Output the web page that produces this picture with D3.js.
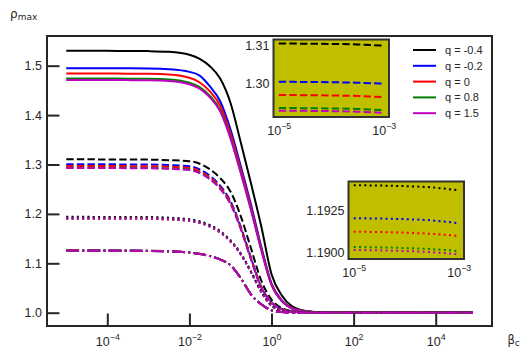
<!DOCTYPE html>
<html>
<head>
<meta charset="utf-8">
<script src="https://cdn.jsdelivr.net/npm/d3@7"></script>
<style>
  body { margin: 0; background: #ffffff; }
  svg text { font-family: "Liberation Sans", Arial, sans-serif; fill: #262626; }
  svg .math { font-family: "DejaVu Sans", sans-serif; }
</style>
</head>
<body>
<svg id="chart" width="532" height="359"></svg>
<script>
// beta_c sample points (log spaced, denser through the drop)
var betaC = [1e-5, 3.16e-5, 1e-4, 3.16e-4, 1e-3, 3.16e-3, 1e-2, 1.78e-2, 3.16e-2, 5.62e-2,
             0.1, 0.178, 0.316, 0.562, 1, 1.78, 3.16, 5.62, 10, 17.8, 31.6, 100, 1000, 10000, 80000];

var qLabels = ["q = -0.4", "q = -0.2", "q = 0", "q = 0.8", "q = 1.5"];

// one row per q, same order as qLabels
var rhoSolid = [
    [1.530,1.530,1.530,1.5299,1.5295,1.528,1.522,1.514,1.499,1.474,1.425,1.345,1.262,1.175,1.078,1.035,1.013,1.005,1.002,1.0005,1,1,1,1,1],
    [1.495,1.495,1.495,1.4948,1.4945,1.493,1.4875,1.480,1.458,1.428,1.371,1.297,1.219,1.134,1.059,1.025,1.009,1.0035,1.0015,1.0005,1,1,1,1,1],
    [1.484,1.484,1.484,1.4838,1.4835,1.482,1.4755,1.466,1.448,1.419,1.363,1.291,1.214,1.131,1.058,1.024,1.009,1.0034,1.0015,1.0005,1,1,1,1,1],
    [1.474,1.474,1.474,1.4738,1.4735,1.472,1.4655,1.4565,1.439,1.410,1.3555,1.285,1.2095,1.128,1.057,1.0235,1.0085,1.0033,1.0014,1.0005,1,1,1,1,1],
    [1.471,1.471,1.471,1.4708,1.4705,1.469,1.4625,1.4535,1.436,1.4075,1.353,1.283,1.208,1.127,1.0565,1.0235,1.0085,1.0033,1.0014,1.0005,1,1,1,1,1]
];
var rhoDashed = [
    [1.31044,1.31040,1.31033,1.31018,1.30987,1.3088,1.3068,1.3015,1.2902,1.2725,1.2452,1.1956,1.1304,1.0652,1.0264,1.0093,1.0031,1.0009,1.0003,1,1,1,1,1,1],
    [1.30042,1.30038,1.30031,1.30017,1.29990,1.2988,1.2965,1.2899,1.2770,1.2571,1.2259,1.1742,1.1111,1.0526,1.0210,1.0075,1.0024,1.0008,1.0003,1,1,1,1,1,1],
    [1.29695,1.29691,1.29684,1.29670,1.29642,1.2953,1.2931,1.2866,1.2738,1.2542,1.2233,1.1722,1.1099,1.0520,1.0208,1.0074,1.0024,1.0007,1.0003,1,1,1,1,1,1],
    [1.29355,1.29351,1.29344,1.29330,1.29300,1.2919,1.2897,1.2833,1.2707,1.2513,1.2208,1.1703,1.1086,1.0514,1.0205,1.0073,1.0023,1.0007,1.0003,1,1,1,1,1,1],
    [1.29285,1.29281,1.29274,1.29259,1.29230,1.2912,1.2890,1.2826,1.2700,1.2507,1.2202,1.1699,1.1084,1.0513,1.0205,1.0073,1.0023,1.0007,1.0003,1,1,1,1,1,1]
];
var rhoDotted = [
    [1.19401,1.19399,1.19395,1.19388,1.19370,1.1923,1.1893,1.1852,1.1775,1.1653,1.1469,1.1203,1.0836,1.0429,1.0143,1.0041,1.0010,1.0002,1,1,1,1,1,1,1],
    [1.19205,1.19203,1.19199,1.19192,1.19175,1.1904,1.1874,1.1833,1.1757,1.1636,1.1454,1.1191,1.0828,1.0424,1.0141,1.0040,1.0010,1.0002,1,1,1,1,1,1,1],
    [1.19125,1.19123,1.19119,1.19112,1.19100,1.1896,1.1866,1.1826,1.1750,1.1629,1.1448,1.1186,1.0824,1.0423,1.0141,1.0040,1.0010,1.0002,1,1,1,1,1,1,1],
    [1.19034,1.19032,1.19028,1.19021,1.19010,1.1887,1.1857,1.1817,1.1742,1.1622,1.1441,1.1180,1.0820,1.0421,1.0140,1.0040,1.0010,1.0002,1,1,1,1,1,1,1],
    [1.19016,1.19014,1.19010,1.19003,1.18990,1.1885,1.1855,1.1815,1.1740,1.1620,1.1440,1.1179,1.0820,1.0420,1.0140,1.0040,1.0010,1.0002,1,1,1,1,1,1,1]
];
var rhoDashDot = [
    [1.1260,1.1260,1.1259,1.1257,1.1254,1.1244,1.1219,1.1193,1.1148,1.1078,1.0962,1.0702,1.0371,1.0171,1.0050,1.0012,1.0002,1,1,1,1,1,1,1,1],
    [1.1258,1.1258,1.1257,1.1255,1.1252,1.1242,1.1217,1.1191,1.1146,1.1076,1.0961,1.0701,1.0370,1.0170,1.0050,1.0012,1.0002,1,1,1,1,1,1,1,1],
    [1.1257,1.1257,1.1256,1.1254,1.1251,1.1241,1.1216,1.1190,1.1145,1.1075,1.0960,1.0700,1.0370,1.0170,1.0050,1.0012,1.0002,1,1,1,1,1,1,1,1],
    [1.1256,1.1256,1.1255,1.1253,1.1250,1.1240,1.1215,1.1190,1.1145,1.1075,1.0960,1.0700,1.0370,1.0170,1.0050,1.0012,1.0002,1,1,1,1,1,1,1,1],
    [1.1256,1.1256,1.1255,1.1253,1.1250,1.1240,1.1215,1.1190,1.1145,1.1075,1.0960,1.0700,1.0370,1.0170,1.0050,1.0012,1.0002,1,1,1,1,1,1,1,1]
];

var yTicks = [1.0, 1.1, 1.2, 1.3, 1.4, 1.5];
var xTickPowers = [-4, -2, 0, 2, 4];
var insetDashedTicks = [1.30, 1.31];
var insetDottedTicks = [1.19, 1.1925];
var insetXPowers = [-5, -3];

var lineColors = ["#000000", "#0000ff", "#ff0000", "#008000", "#bf00bf"];
var dashSolid = null, dashDashed = "7.4,3.2", dashDotted = "2,3.3", dashDashDot = "12.8,3.2,2,3.2";

var svg = d3.select("#chart");
var axisColor = "#262626";

var box = {left: 47, right: 492, top: 36, bottom: 326};
var x = d3.scaleLog().domain([Math.pow(10, -5.469), Math.pow(10, 5.371)]).range([box.left, box.right]);
var y = d3.scaleLinear().domain([0.9731, 1.5601]).range([box.bottom, box.top]);

function lineFor(xs, ys) {
    return d3.line()
        .x(function(d) { return xs(d[0]); })
        .y(function(d) { return ys(d[1]); })
        .curve(d3.curveMonotoneX);
}

function pairs(vals, n) {
    var out = [];
    var last = n || vals.length;
    for (var i = 0; i < last; i++) out.push([betaC[i], vals[i]]);
    return out;
}

// power-of-ten labels, "10" with a raised exponent
function powerLabels(sel) {
    sel.selectAll(".tick text").each(function(p) {
        var t = d3.select(this);
        t.text(null);
        t.append("tspan").text("10");
        t.append("tspan").attr("dy", "-0.62em").style("font-size", "8.8px")
            .text(p < 0 ? "\u2212" + Math.abs(p) : String(p));
    });
}

// main curves
var mainLine = lineFor(x, y);
var curves = svg.append("g").attr("class", "curves");
var styleSets = [[rhoSolid, dashSolid], [rhoDashed, dashDashed], [rhoDotted, dashDotted], [rhoDashDot, dashDashDot]];
styleSets.forEach(function(s) {
    s[0].forEach(function(vals, qi) {
        curves.append("path")
            .attr("d", mainLine(pairs(vals)))
            .attr("fill", "none")
            .attr("stroke", lineColors[qi])
            .attr("stroke-width", 2)
            .attr("stroke-dasharray", s[1]);
    });
});

// axes, inward ticks
var yAxis = svg.append("g").attr("transform", "translate(" + box.left + ",0)")
    .call(d3.axisLeft(y).tickValues(yTicks).tickFormat(d3.format(".1f")).tickSize(-12.5).tickSizeOuter(0).tickPadding(5));
var xAxis = svg.append("g").attr("transform", "translate(0," + box.bottom + ")")
    .call(d3.axisBottom(x).tickValues(xTickPowers.map(function(p) { return Math.pow(10, p); }))
        .tickSize(-12.5).tickSizeOuter(0).tickPadding(11));
xAxis.selectAll(".tick").each(function(d) { d3.select(this).select("text").datum(Math.round(Math.log10(d))); });
powerLabels(xAxis);

[yAxis, xAxis].forEach(function(a) {
    a.select(".domain").remove();
    a.selectAll(".tick line").attr("stroke", axisColor).attr("stroke-width", 2);
    a.selectAll(".tick text").style("font-size", "12.5px").attr("fill", axisColor);
});

svg.append("rect")
    .attr("x", box.left).attr("y", box.top)
    .attr("width", box.right - box.left).attr("height", box.bottom - box.top)
    .attr("fill", "none").attr("stroke", axisColor).attr("stroke-width", 2);

// axis titles
var yTitle = svg.append("text").attr("class", "math").attr("x", 10).attr("y", 18);
yTitle.append("tspan").style("font-size", "12px").text("\u03c1");
yTitle.append("tspan").attr("dy", 2).style("font-size", "9px").text("max");

var xTitle = svg.append("text").attr("class", "math").attr("x", 507.5).attr("y", 344);
xTitle.append("tspan").style("font-size", "11.5px").text("\u03b2");
xTitle.append("tspan").attr("dy", 1.5).style("font-size", "9px").text("c");

// legend
var legend = svg.append("g").attr("class", "legend");
qLabels.forEach(function(lab, i) {
    var ly = 50 + i * 15.8;
    legend.append("line").attr("x1", 413).attr("x2", 436).attr("y1", ly).attr("y2", ly)
        .attr("stroke", lineColors[i]).attr("stroke-width", 2);
    legend.append("text").attr("x", 445).attr("y", ly).attr("dy", "0.36em")
        .style("font-size", "11px").text(lab);
});

// zoomed insets of the plateau (first five beta points, up to 1e-3)
function drawInset(id, r, yDomain, series, dash, yTickVals, yFmt) {
    var ix = d3.scaleLog().domain([Math.pow(10, -5.1), Math.pow(10, -2.9)]).range([r.left, r.right]);
    var iy = d3.scaleLinear().domain(yDomain).range([r.bottom, r.top]);
    var g = svg.append("g").attr("class", "inset");

    g.append("clipPath").attr("id", id)
        .append("rect").attr("x", r.left).attr("y", r.top)
        .attr("width", r.right - r.left).attr("height", r.bottom - r.top);

    g.append("rect").attr("x", r.left).attr("y", r.top)
        .attr("width", r.right - r.left).attr("height", r.bottom - r.top)
        .attr("fill", "#bfbf00");

    var il = lineFor(ix, iy);
    var lg = g.append("g").attr("clip-path", "url(#" + id + ")");
    series.forEach(function(vals, qi) {
        lg.append("path")
            .attr("d", il(pairs(vals, 5)))
            .attr("fill", "none")
            .attr("stroke", lineColors[qi])
            .attr("stroke-width", 2)
            .attr("stroke-dasharray", dash);
    });

    g.append("rect").attr("x", r.left).attr("y", r.top)
        .attr("width", r.right - r.left).attr("height", r.bottom - r.top)
        .attr("fill", "none").attr("stroke", "#333333").attr("stroke-width", 2);

    var ya = g.append("g").attr("transform", "translate(" + r.left + ",0)")
        .call(d3.axisLeft(iy).tickValues(yTickVals).tickFormat(d3.format(yFmt)).tickSize(0).tickPadding(4));
    var xa = g.append("g").attr("transform", "translate(0," + r.bottom + ")")
        .call(d3.axisBottom(ix).tickValues(insetXPowers.map(function(p) { return Math.pow(10, p); }))
            .tickSize(0).tickPadding(9));
    xa.selectAll(".tick").each(function(d) { d3.select(this).select("text").datum(Math.round(Math.log10(d))); });
    powerLabels(xa);
    [ya, xa].forEach(function(a) {
        a.select(".domain").remove();
        a.selectAll(".tick line").remove();
        a.selectAll(".tick text").style("font-size", "12.5px").attr("fill", axisColor);
    });
}

drawInset("clipDashed", {left: 273.5, right: 389, top: 39.5, bottom: 117},
    [1.29120, 1.31149], rhoDashed, dashDashed, insetDashedTicks, ".2f");
drawInset("clipDotted", {left: 348.5, right: 464, top: 181.5, bottom: 259},
    [1.18963, 1.19423], rhoDotted, dashDotted, insetDottedTicks, ".4f");
</script>
</body>
</html>
